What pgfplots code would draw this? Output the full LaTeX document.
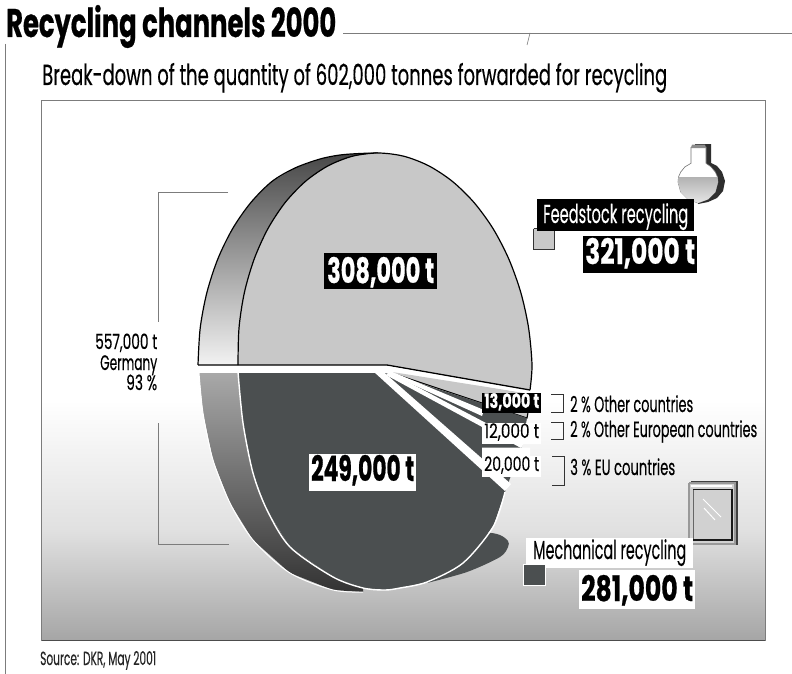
\documentclass[border=0pt]{standalone}
\usepackage{fontspec}
\usepackage{graphicx}
\usepackage{pgfplots}
\pgfplotsset{compat=1.18}
\setmainfont{Poppins}[FakeBold=0.4,BoldFeatures={FakeBold=0.7}]
\definecolor{sliceLight}{HTML}{C8C8C8}
\definecolor{sliceDark}{HTML}{4B4F50}
\definecolor{rule}{HTML}{7C7C7C}

% text squeezed to a fixed width: x, baseline y, width, size, colour, text
\newcommand{\lab}[6]{\node[inner sep=0pt,anchor=base west,text=#5] at (axis cs:#1,#2)
  {\resizebox{#3bp}{\height}{\fontsize{#4bp}{#4bp}\selectfont #6}};}
\newcommand{\boxed}[5]{\fill[#5] (axis cs:#1,#2) rectangle (axis cs:#3,#4);}

\begin{document}
\begin{tikzpicture}
\begin{axis}[scale only axis,width=792bp,height=674bp,xmin=0,xmax=792,ymin=0,ymax=674,
  y dir=reverse,axis lines=none,clip=true]

% page
\addplot[draw=white,line width=0pt,fill=white] coordinates {(0,0)(792,0)(792,674)(0,674)(0,0)};
\path (axis cs:0,0) rectangle (axis cs:792,674);

% page rules
\addplot[rule,line width=1bp] coordinates {(5,44)(5,674)};
\addplot[rule,line width=1bp] coordinates {(343,34)(792,34)};
\addplot[rule,line width=.6bp] coordinates {(530,33)(527,45)};

% panel background
\addplot[draw=none,fill=white] coordinates {(41,101)(765,101)(765,400)(41,400)(41,101)};
\addplot[draw=none,top color=white,bottom color=white!88!black] coordinates {(41,400)(765,400)(765,530)(41,530)(41,400)};
\addplot[draw=none,top color=white!88!black,bottom color=white!65!black] coordinates {(41,530)(765,530)(765,640)(41,640)(41,530)};
\addplot[rule,line width=1bp] coordinates {(41.5,640.5)(41.5,101)(765,101)(765,640.5)};
\addplot[black!70,line width=1.2bp] coordinates {(41.5,640.5)(765,640.5)};

% Germany bracket
\addplot[rule,line width=.9bp] coordinates {(228,192)(158,192)(158,322)};
\addplot[rule,line width=.9bp] coordinates {(158,423)(158,544)(229,544)};

% rim of the upper slice
\addplot[draw=none,top color=black!72,middle color=white!68!black,bottom color=white!95!black] coordinates {
 (198,365)(200.2,328)(206.9,292.5)(217.8,259)(232.6,228.7)(250.8,202.6)(272,181.4)(295,168)(320,159)(340,155)(360,153.5)(378,153)
 (352.5,156.2)(328.1,165.8)(305.4,181.4)(285.1,202.6)(267.9,228.7)(254.2,259)(244.4,292.5)(239,328)(238,365)(198,365)};
\addplot[black,line width=1.2bp,smooth] coordinates {
 (198,365)(200.2,328)(206.9,292.5)(217.8,259)(232.6,228.7)(250.8,202.6)(272,181.4)(295,168)(320,159)(340,155)(360,153.5)(378,153)};

% upper slice: 308,000 t
\addplot[draw=none,fill=sliceLight] coordinates {
 (238,365)(239,328)(244.4,292.5)(254.2,259)(267.9,228.7)(285.1,202.6)(305.4,181.4)(328.1,165.8)(352.5,156.2)(378,153)
 (403.7,156.2)(428.7,165.8)(452.4,181.4)(474.1,202.6)(493.1,228.7)(508.8,259)(520.8,292.5)(528.6,328)(532,365)(530,390)(387,365)(238,365)};
\addplot[black,line width=1.2bp,smooth] coordinates {
 (238,365)(239,328)(244.4,292.5)(254.2,259)(267.9,228.7)(285.1,202.6)(305.4,181.4)(328.1,165.8)(352.5,156.2)(378,153)
 (403.7,156.2)(428.7,165.8)(452.4,181.4)(474.1,202.6)(493.1,228.7)(508.8,259)(520.8,292.5)(528.6,328)(532,365)(530,390)};
\addplot[black,line width=1.3bp] coordinates {(530,390)(387,365)(198,365)};

% small slice: 13,000 t
\addplot[draw=none,fill=sliceLight] coordinates {(392,372)(531,394)(527,418)(392,373)(392,372)};
\addplot[black,line width=1.1bp] coordinates {(392,373)(527,418)(531,396)};
\addplot[white,line width=2.4bp] coordinates {(388,367.5)(531,393)};

% rim of the lower slices
\addplot[draw=none,top color=white!66!black,middle color=white!42!black,bottom color=black!80] coordinates {
 (199,373)(203,413)(213,460)(230,503)(253,540)(290,573)(333,590)(363,592)(363,588)(333,577)(290,547)(267,510)(253,473)(243,423)(238,373)(199,373)};
\addplot[white,line width=1bp,smooth] coordinates {(199,373)(203,413)(213,460)(230,503)(253,540)(290,573)(333,590)(363,592)};
% rim showing past the right of the lower slice
\addplot[draw=none,fill=sliceDark,smooth] coordinates {
 (427,583)(467,572)(500,557)(508,547)(508,541)(500,535)(487,533)(470,540)(450,565)(427,583)};

% lower slices: 249,000 t, 20,000 t, 12,000 t
\addplot[draw=none,fill=sliceDark] coordinates {
 (238,372)(243,423)(253,473)(267,510)(290,547)(333,577)(363,588)(385,590)(400,588)(427,582)(463,563)(493,527)(505,492)(513,470)(522,446)(527,418)(392,374)(375,372)(238,372)};
\addplot[white,line width=1.4bp,smooth] coordinates {
 (238,372)(243,423)(253,473)(267,510)(290,547)(333,577)(363,588)(385,590)(400,588)(427,582)(463,563)(493,527)(505,492)};
\addplot[white,line width=1bp] coordinates {(238,372)(375,372)};

% gaps between the slices
\addplot[draw=none,fill=white] coordinates {(374,372)(379,368)(511,484)(505,491)(374,372)};
\addplot[draw=none,fill=white] coordinates {(386,375)(389,372)(524,443)(521,448)(386,375)};
\addplot[draw=none,fill=white] coordinates {(387,373)(389,370.5)(484,410)(482,416)(387,373)};
\addplot[draw=none,fill=white] coordinates {(482,447.5)(530,447.5)(530,456)(482,456)(482,447.5)};

% flask
\addplot[draw=none,fill=black!82] coordinates {(695,144)(711,144)(711,163)(717,166)(722,172)(725,181)(723,191)(717,198)(708,202)(698,204)(698,182)(695,144)};
\addplot[draw=black!55,line width=.6bp,fill=white] coordinates {(691,147)(691,163.3)(685,166.8)(680.7,172)(678.5,177)(678,182)(680.7,192)(688,199.3)(698,203)(708,199.3)(715.3,192)(718,182)(717.5,177)(715.3,172)(711,166.8)(706,163.3)(706,147)(691,147)};
\addplot[draw=none,top color=white!70!black,bottom color=white!90!black] coordinates {(678.5,177)(678,182)(680.7,192)(688,199.3)(698,203)(708,199.3)(715.3,192)(718,182)(717.5,177)(678.5,177)};
\addplot[draw=none,fill=black!45] coordinates {(692,144.5)(705,144.5)(706,148)(691,148)(692,144.5)};

% book
\addplot[draw=white!60!black,line width=1.2bp,fill=white!82!black] coordinates {(689,483)(735,483)(735,544)(689,544)(689,483)};
\addplot[black!75,line width=1.3bp] coordinates {(691,481.5)(737,481.5)(737,545)};
\addplot[black!75,line width=2.6bp] coordinates {(737,484)(737,491)};
\addplot[black!75,line width=2.6bp] coordinates {(737,534)(737,542)};
\addplot[white,line width=1.2bp] coordinates {(691,486)(732,486)};
\addplot[black!60,line width=.8bp] coordinates {(693,541)(693,490)};
\addplot[black!90,line width=1.3bp] coordinates {(693,489.5)(732,489.5)(732,540)(693,540)};
\addplot[white,line width=1bp] coordinates {(703,499)(721,517)};
\addplot[white,line width=1bp] coordinates {(704,508)(715,520)};

% legend squares
\addplot[draw=black!80,line width=1bp,fill=sliceLight] coordinates {(533.5,228.5)(554.5,228.5)(554.5,249)(533.5,249)(533.5,228.5)};

% slice brackets
\addplot[black!80,line width=.9bp] coordinates {(551,394.5)(563,394.5)(563,412)(551,412)};
\addplot[black!80,line width=.9bp] coordinates {(551,422.5)(563,422.5)(563,439)(551,439)};
\addplot[black!80,line width=.9bp] coordinates {(552,456)(564,456)(564,485)(552,485)};

% titles
\lab{6}{37}{330}{40}{black}{\bfseries Recycling channels 2000}
\lab{42}{85}{625}{29}{black}{Break-down of the quantity of 602,000 tonnes forwarded for recycling}
\lab{40}{665}{116}{19}{black!85}{Source: DKR, May 2001}

% left annotation
\lab{95}{349}{62}{21}{black}{557,000 t}
\lab{100}{370}{57}{21}{black}{Germany}
\lab{126}{390}{31}{21}{black}{93 \%}

% value boxes
\boxed{324}{253}{437}{289}{black}
\lab{327}{283}{107}{35}{white}{\bfseries 308,000 t}
\boxed{309}{454}{416}{491}{white}
\lab{311}{481}{103}{35}{black}{\bfseries 249,000 t}
\boxed{537}{199}{694}{231}{black}
\lab{543}{223}{145}{26}{white}{Feedstock recycling}
\boxed{583}{236}{697}{273}{black}
\lab{585}{264}{110}{35}{white}{\bfseries 321,000 t}
\boxed{526}{538}{693}{568}{white}
\lab{533}{559}{153}{26}{black}{Mechanical recycling}
\addplot[draw=white,line width=1bp,fill=sliceDark] coordinates {(523.5,564)(545.5,564)(545.5,585.5)(523.5,585.5)(523.5,564)};
\boxed{579}{570}{695}{609}{white}
\lab{581}{601}{112}{35}{black}{\bfseries 281,000 t}

\boxed{482}{393}{541}{413}{black}
\lab{484}{408}{55}{20}{white}{\bfseries 13,000 t}
\boxed{482}{423}{541}{444}{white}
\lab{484}{438}{55}{20}{black}{12,000 t}
\boxed{482}{456}{541}{477}{white}
\lab{484}{471}{55}{20}{black}{20,000 t}

\lab{570}{412}{123}{22}{black}{2 \% Other countries}
\lab{570}{437}{187}{22}{black}{2 \% Other European countries}
\lab{570}{475}{105}{22}{black}{3 \% EU countries}
\end{axis}
\end{tikzpicture}
\end{document}
